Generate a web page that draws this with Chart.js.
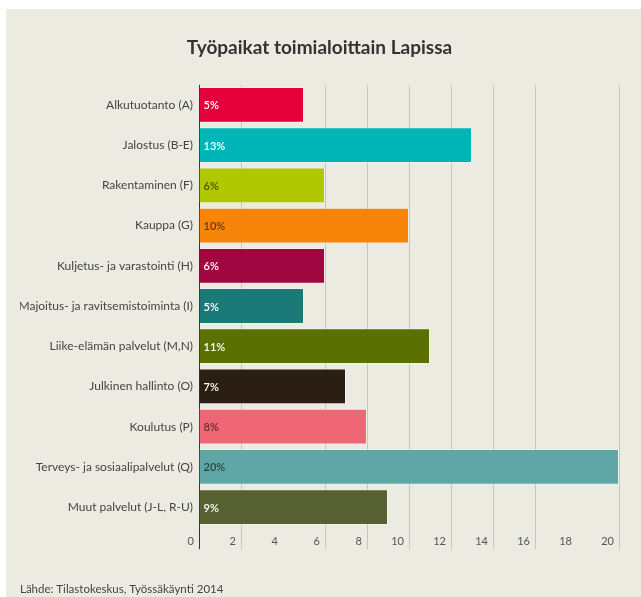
<!DOCTYPE html>
<html>
<head>
<meta charset="utf-8">
<script src="https://cdn.jsdelivr.net/npm/chart.js@4"></script>
<style>
  html, body { margin: 0; padding: 0; background: #fff; }
  #panel { position: absolute; left: 6px; top: 9px; width: 635px; height: 588px; background: #ecebe1; }
  #panel canvas { display: block; }
</style>
</head>
<body>
<div id="panel"><canvas id="tyopaikat" width="635" height="588"></canvas></div>
<script>
// Työpaikat toimialoittain Lapissa, 2014 (%)
var toimialat = [
  'Alkutuotanto (A)',
  'Jalostus (B-E)',
  'Rakentaminen (F)',
  'Kauppa (G)',
  'Kuljetus- ja varastointi (H)',
  'Majoitus- ja ravitsemistoiminta (I)',
  'Liike-elämän palvelut (M,N)',
  'Julkinen hallinto (O)',
  'Koulutus (P)',
  'Terveys- ja sosiaalipalvelut (Q)',
  'Muut palvelut (J-L, R-U)'
];
var osuudet = [5, 13, 6, 10, 6, 5, 11, 7, 8, 20, 9];
var xTicks = [0, 2, 4, 6, 8, 10, 12, 14, 16, 18, 20];

var barColors = ['#e4003b', '#00b5b8', '#b0c800', '#f7850a', '#a0063f', '#1b7a78',
                 '#5a7000', '#2b1f14', '#ef6674', '#5ea7a6', '#566030'];
var labelColors = ['#fff', '#fff', 'rgba(0,0,0,0.6)', 'rgba(0,0,0,0.6)', '#fff', '#fff',
                   '#fff', '#fff', 'rgba(0,0,0,0.6)', 'rgba(0,0,0,0.6)', '#fff'];

var fontFamily = 'Lato, "Open Sans", sans-serif';

// prosenttiluvut palkkien sisään
var barLabels = {
  id: 'barLabels',
  afterDatasetsDraw: function (chart) {
    var ctx = chart.ctx;
    var meta = chart.getDatasetMeta(0);
    ctx.save();
    ctx.font = '600 11px ' + fontFamily;
    ctx.textAlign = 'left';
    ctx.textBaseline = 'middle';
    meta.data.forEach(function (bar, i) {
      ctx.fillStyle = labelColors[i];
      ctx.fillText(osuudet[i] + '%', bar.base + 4, bar.y + 1);
    });
    ctx.restore();
  }
};

var ctx = document.getElementById('tyopaikat').getContext('2d');
var chart = new Chart(ctx, {
  type: 'bar',
  data: {
    labels: toimialat,
    datasets: [{
      data: osuudet,
      backgroundColor: barColors,
      borderColor: 'rgba(255,255,255,0.3)',
      borderWidth: 1,
      barPercentage: 0.89,
      categoryPercentage: 1
    }]
  },
  options: {
    indexAxis: 'y',
    responsive: false,
    animation: false,
    layout: { padding: { left: 14, right: 22, top: 0, bottom: 0 } },
    plugins: {
      legend: { display: false },
      tooltip: { enabled: false },
      title: {
        display: true,
        text: 'Työpaikat toimialoittain Lapissa',
        color: '#333',
        font: { family: fontFamily, size: 19, weight: 'bold' },
        padding: { top: 27, bottom: 26 }
      },
      subtitle: {
        display: true,
        position: 'bottom',
        align: 'start',
        text: 'Lähde: Tilastokeskus, Työssäkäynti 2014',
        color: '#444',
        font: { family: fontFamily, size: 11.5 },
        padding: { top: 0, bottom: 1 }
      }
    },
    scales: {
      x: {
        min: 0,
        max: 20,
        afterBuildTicks: function (scale) {
          scale.ticks = xTicks.map(function (v) { return { value: v }; });
        },
        afterFit: function (scale) { scale.height = 55; },
        border: { display: false },
        grid: {
          drawTicks: true,
          tickLength: 22,
          lineWidth: 1,
          color: function (c) {
            var v = c.tick ? c.tick.value : null;
            if (v === 0) return '#333';
            if (v === 4 || v === 18) return 'rgba(0,0,0,0)';
            return '#c6c6bc';
          }
        },
        ticks: {
          align: 'end',
          labelOffset: -5,
          padding: -14,
          color: '#555',
          font: { family: fontFamily, size: 11 }
        }
      },
      y: {
        afterFit: function (scale) { scale.width = 179; },
        border: { display: false },
        grid: { display: false, drawTicks: false },
        ticks: {
          padding: 6,
          color: '#444',
          font: { family: fontFamily, size: 12 }
        }
      }
    }
  },
  plugins: [barLabels]
});
</script>
</body>
</html>
